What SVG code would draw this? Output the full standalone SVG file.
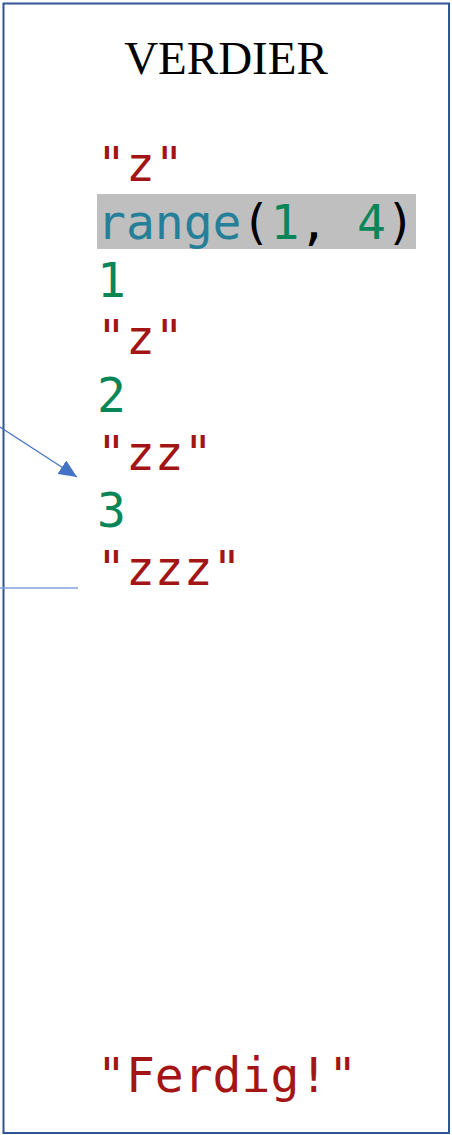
<svg xmlns="http://www.w3.org/2000/svg" width="452" height="1135" viewBox="0 0 452 1135">
<style>
.code{font-family:"DejaVu Sans Mono",monospace;font-size:48px}
.str{fill:#A31515}
.num{fill:#098658}
.fn{fill:#267F99}
.pun{fill:#000000}
.conn{stroke:#4472C4;stroke-width:1.2;fill:none}
</style>
<defs>
<marker id="ah" markerUnits="userSpaceOnUse" markerWidth="20" markerHeight="16" refX="18" refY="8" orient="auto">
<path d="M0,0 L18,8 L0,16 Z" fill="#4472C4"/>
</marker>
</defs>
<rect x="3.5" y="3.5" width="445.5" height="1129.5" fill="#FFFFFF" stroke="#2F5597" stroke-width="2"/>
<g id="title"><text x="226" y="74" font-family="'Liberation Serif',serif" font-size="47" text-anchor="middle" fill="#000">VERDIER</text></g>
<g id="values">
<text class="code str" x="97" y="181">"z"</text>
<rect x="97" y="194" width="319" height="55" fill="#BFBFBF"/>
<text class="code" x="97" y="239"><tspan class="fn">range</tspan><tspan class="pun">(</tspan><tspan class="num">1</tspan><tspan class="pun">, </tspan><tspan class="num">4</tspan><tspan class="pun">)</tspan></text>
<text class="code num" x="97" y="297">1</text>
<text class="code str" x="97" y="354">"z"</text>
<text class="code num" x="97" y="412">2</text>
<text class="code str" x="97" y="470">"zz"</text>
<text class="code num" x="97" y="527">3</text>
<text class="code str" x="97" y="585">"zzz"</text>
<text class="code str" x="97" y="1092">"Ferdig!"</text>
</g>
<g id="connectors">
<line class="conn" x1="0" y1="427" x2="77" y2="477" marker-end="url(#ah)"/>
<line x1="0" y1="588" x2="78" y2="588" stroke="#7FA0DC" stroke-width="1.5"/>
</g>
</svg>
